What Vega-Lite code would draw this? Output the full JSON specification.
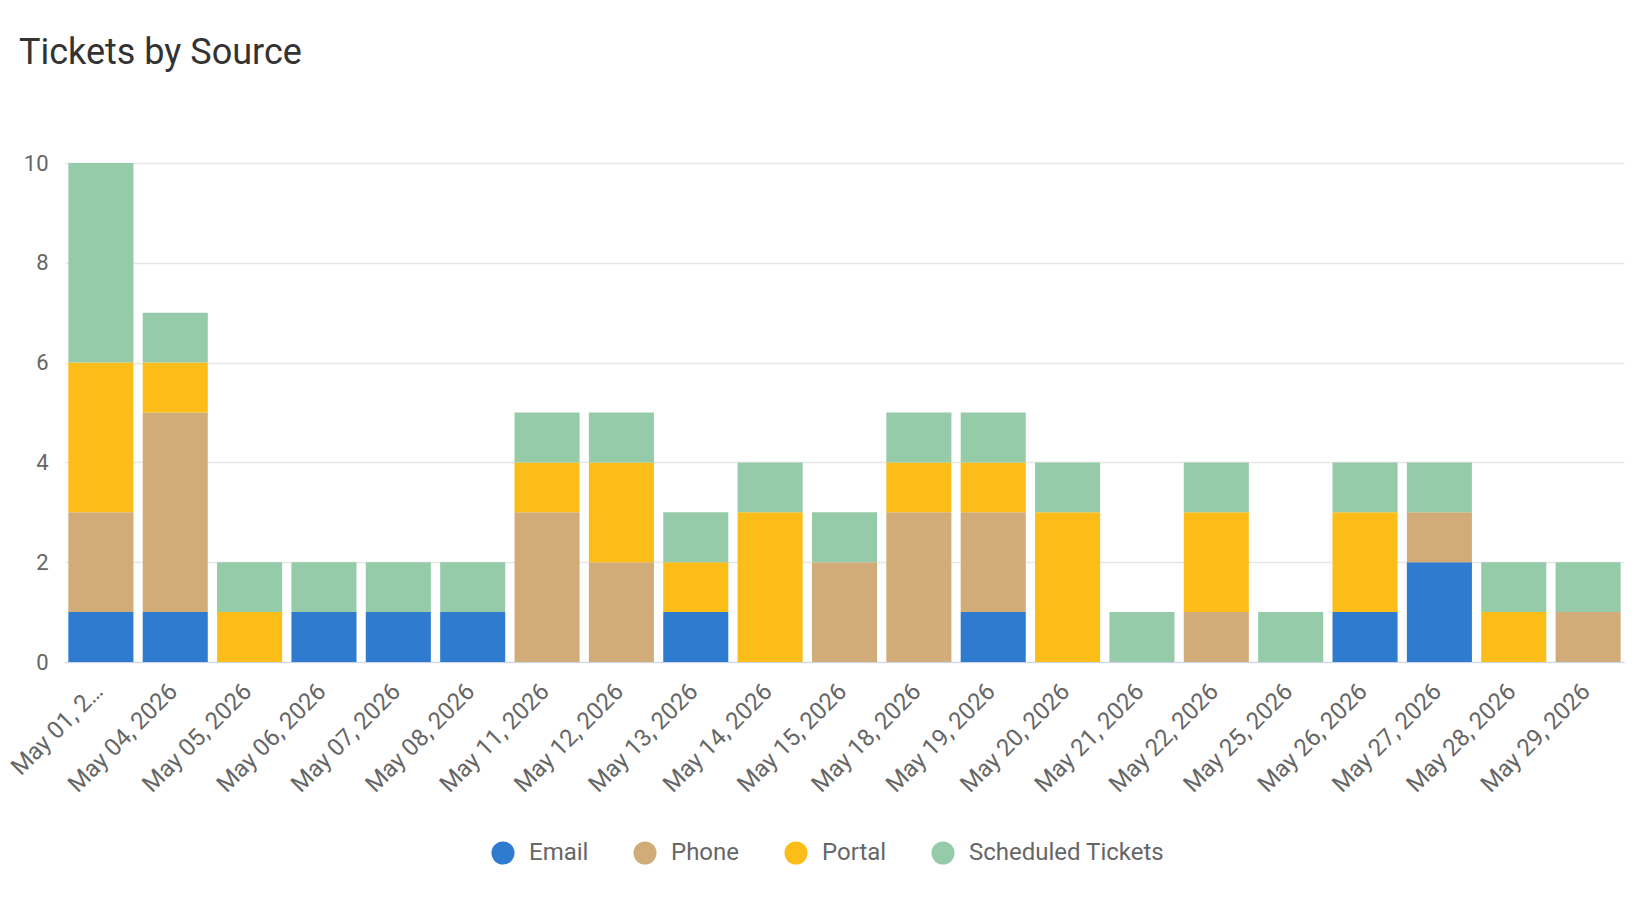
{
  "$schema": "https://vega.github.io/schema/vega-lite/v6.json",
  "width": 1559,
  "height": 499,
  "autosize": {"type": "none"},
  "padding": {"left": 65, "top": 163, "right": 24, "bottom": 249},
  "background": "white",
  "title": {"text": "Tickets by Source", "anchor": "start", "frame": "group", "fontSize": 36, "font": "Roboto", "fontWeight": "normal", "color": "#333333", "offset": 80, "dx": -46},
  "data": {"values": [
    {"date": "May 01, 2026", "source": "Email", "count": 1},
    {"date": "May 01, 2026", "source": "Phone", "count": 2},
    {"date": "May 01, 2026", "source": "Portal", "count": 3},
    {"date": "May 01, 2026", "source": "Scheduled Tickets", "count": 4},
    {"date": "May 04, 2026", "source": "Email", "count": 1},
    {"date": "May 04, 2026", "source": "Phone", "count": 4},
    {"date": "May 04, 2026", "source": "Portal", "count": 1},
    {"date": "May 04, 2026", "source": "Scheduled Tickets", "count": 1},
    {"date": "May 05, 2026", "source": "Portal", "count": 1},
    {"date": "May 05, 2026", "source": "Scheduled Tickets", "count": 1},
    {"date": "May 06, 2026", "source": "Email", "count": 1},
    {"date": "May 06, 2026", "source": "Scheduled Tickets", "count": 1},
    {"date": "May 07, 2026", "source": "Email", "count": 1},
    {"date": "May 07, 2026", "source": "Scheduled Tickets", "count": 1},
    {"date": "May 08, 2026", "source": "Email", "count": 1},
    {"date": "May 08, 2026", "source": "Scheduled Tickets", "count": 1},
    {"date": "May 11, 2026", "source": "Phone", "count": 3},
    {"date": "May 11, 2026", "source": "Portal", "count": 1},
    {"date": "May 11, 2026", "source": "Scheduled Tickets", "count": 1},
    {"date": "May 12, 2026", "source": "Phone", "count": 2},
    {"date": "May 12, 2026", "source": "Portal", "count": 2},
    {"date": "May 12, 2026", "source": "Scheduled Tickets", "count": 1},
    {"date": "May 13, 2026", "source": "Email", "count": 1},
    {"date": "May 13, 2026", "source": "Portal", "count": 1},
    {"date": "May 13, 2026", "source": "Scheduled Tickets", "count": 1},
    {"date": "May 14, 2026", "source": "Portal", "count": 3},
    {"date": "May 14, 2026", "source": "Scheduled Tickets", "count": 1},
    {"date": "May 15, 2026", "source": "Phone", "count": 2},
    {"date": "May 15, 2026", "source": "Scheduled Tickets", "count": 1},
    {"date": "May 18, 2026", "source": "Phone", "count": 3},
    {"date": "May 18, 2026", "source": "Portal", "count": 1},
    {"date": "May 18, 2026", "source": "Scheduled Tickets", "count": 1},
    {"date": "May 19, 2026", "source": "Email", "count": 1},
    {"date": "May 19, 2026", "source": "Phone", "count": 2},
    {"date": "May 19, 2026", "source": "Portal", "count": 1},
    {"date": "May 19, 2026", "source": "Scheduled Tickets", "count": 1},
    {"date": "May 20, 2026", "source": "Portal", "count": 3},
    {"date": "May 20, 2026", "source": "Scheduled Tickets", "count": 1},
    {"date": "May 21, 2026", "source": "Scheduled Tickets", "count": 1},
    {"date": "May 22, 2026", "source": "Phone", "count": 1},
    {"date": "May 22, 2026", "source": "Portal", "count": 2},
    {"date": "May 22, 2026", "source": "Scheduled Tickets", "count": 1},
    {"date": "May 25, 2026", "source": "Scheduled Tickets", "count": 1},
    {"date": "May 26, 2026", "source": "Email", "count": 1},
    {"date": "May 26, 2026", "source": "Portal", "count": 2},
    {"date": "May 26, 2026", "source": "Scheduled Tickets", "count": 1},
    {"date": "May 27, 2026", "source": "Email", "count": 2},
    {"date": "May 27, 2026", "source": "Phone", "count": 1},
    {"date": "May 27, 2026", "source": "Scheduled Tickets", "count": 1},
    {"date": "May 28, 2026", "source": "Portal", "count": 1},
    {"date": "May 28, 2026", "source": "Scheduled Tickets", "count": 1},
    {"date": "May 29, 2026", "source": "Phone", "count": 1},
    {"date": "May 29, 2026", "source": "Scheduled Tickets", "count": 1}
  ]},
  "mark": {"type": "bar"},
  "encoding": {
    "x": {
      "field": "date", "type": "nominal", "sort": null,
      "scale": {"paddingInner": 0.125, "paddingOuter": 0.045},
      "axis": {
        "title": null, "labelAngle": -45, "labelFontSize": 24, "labelColor": "#666666", "labelFont": "Roboto",
        "ticks": false, "domainColor": "#ccd6eb", "domainWidth": 1, "labelPadding": 17, "labelOffset": -10, "labelLimit": 400, "labelOverlap": false,
        "labelExpr": "datum.value === 'May 01, 2026' ? 'May 01, 2…' : datum.label"
      }
    },
    "y": {
      "field": "count", "type": "quantitative", "stack": "zero",
      "scale": {"domain": [0, 10]},
      "axis": {
        "title": null, "values": [0, 2, 4, 6, 8, 10], "labelFontSize": 22, "labelColor": "#666666", "labelFont": "Roboto",
        "ticks": false, "domain": false, "gridColor": "#e6e6e6", "gridWidth": 1.5, "labelPadding": 17
      }
    },
    "order": {"field": "source", "sort": "ascending"},
    "color": {
      "field": "source", "type": "nominal",
      "scale": {"domain": ["Email", "Phone", "Portal", "Scheduled Tickets"], "range": ["#2f7bd0", "#d2ac78", "#fdbd19", "#95cba9"]},
      "legend": {
        "title": null, "orient": "none", "legendX": 426, "legendY": 678, "padding": 0, "direction": "horizontal", "symbolType": "circle", "symbolSize": 530,
        "symbolStrokeWidth": 0, "labelFontSize": 24, "labelColor": "#666666", "labelFont": "Roboto", "labelLimit": 400,
        "labelOffset": 14, "columnPadding": 44
      }
    }
  },
  "config": {"view": {"stroke": null}, "font": "Roboto"}
}
